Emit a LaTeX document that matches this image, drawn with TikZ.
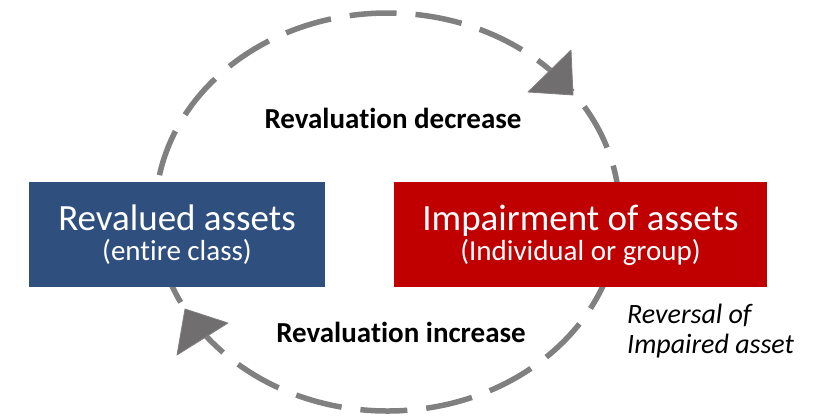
\documentclass[tikz,border=0pt]{standalone}
\usepackage{fontspec}
\setmainfont{Carlito}[Ligatures=NoCommon]
\definecolor{assetblue}{RGB}{47,79,126}
\definecolor{assetred}{RGB}{192,0,0}
\definecolor{cyclegray}{RGB}{128,128,128}
\definecolor{headgray}{RGB}{112,110,110}
\begin{document}
\begin{tikzpicture}[x=1pt,y=-1pt,
  cyclepath/.style={draw=cyclegray, line width=5.5pt, dash pattern=on 47pt off 19pt},
  arrowhead/.style={fill=headgray, draw=cyclegray, line width=0.8pt, line join=round},
  assetbox/.style={rectangle, inner sep=0pt, minimum height=105pt},
  boxtitle/.style={text=white, inner sep=0pt, font=\fontsize{37}{44}\selectfont},
  boxsub/.style={text=white, inner sep=0pt, font=\fontsize{29}{35}\selectfont},
  flowlabel/.style={inner sep=0pt, font=\fontsize{29}{35}\selectfont\bfseries},
  notelabel/.style={inner sep=0pt, font=\fontsize{28}{34}\selectfont\itshape}]
\useasboundingbox (0,0) rectangle (816,416);

% dashed cycle between the two treatments
\draw[cyclepath] (387.5,212) ellipse [x radius=232pt, y radius=199pt];

% the two boxes
\node[assetbox, fill=assetblue, minimum width=296pt] (revalued) at (177,234.5) {};
\node[assetbox, fill=assetred, minimum width=373pt] (impairment) at (580.5,234.5) {};

\node[boxtitle, anchor=base] (revaluedtitle) at (177,230) {Revalued assets};
\node[boxsub, anchor=base] (revaluedsub) at (177,260) {(entire class)};
\node[boxtitle, anchor=base] (impairmenttitle) at (580.5,230) {Impairment of assets};
\node[boxsub, anchor=base] (impairmentsub) at (580.5,260) {(Individual or group)};

% direction of the cycle
\filldraw[arrowhead] (573,95) -- (571,50) -- (528,92) -- cycle;
\filldraw[arrowhead] (185,309) -- (228,323) -- (177,355) -- cycle;

% labels
\node[flowlabel, anchor=base] (decrease) at (393,128) {Revaluation decrease};
\node[flowlabel, anchor=base] (increase) at (401,342) {Revaluation increase};
\node[notelabel, anchor=base west] (reversal1) at (627,323) {Reversal of};
\node[notelabel, anchor=base west] (reversal2) at (627,353) {Impaired asset};
\end{tikzpicture}
\end{document}
